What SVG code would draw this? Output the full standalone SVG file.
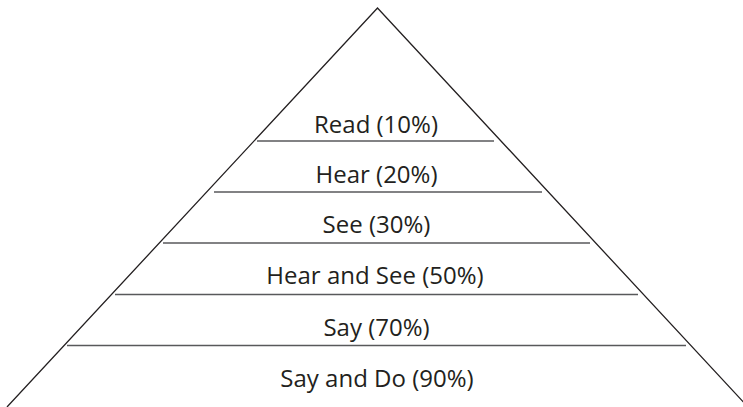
<svg xmlns="http://www.w3.org/2000/svg" width="743" height="407" viewBox="0 0 743 407">
  <style>
    .outline { fill: none; stroke: #231f20; stroke-width: 1.3; }
    .divider { stroke: #58595b; stroke-width: 1.4; fill: none; }
    .label { font-family: "Open Sans", "Liberation Sans", sans-serif; font-size: 24px; fill: #231f20; text-anchor: middle; }
  </style>
  <rect x="0" y="0" width="743" height="407" fill="#ffffff"/>
  <g id="pyramid">
    <polyline class="outline" points="7,407 377.5,8 748,407"/>
  </g>
  <g id="connectors">
    <line class="divider" x1="257" y1="141" x2="494" y2="141"/>
    <line class="divider" x1="214" y1="192" x2="542" y2="192"/>
    <line class="divider" x1="163" y1="243" x2="590" y2="243"/>
    <line class="divider" x1="115" y1="294.5" x2="638" y2="294.5"/>
    <line class="divider" x1="67" y1="345.5" x2="686" y2="345.5"/>
  </g>
  <g id="read"><text class="label" x="376" y="132.5">Read (10%)</text></g>
  <g id="hear"><text class="label" x="376.5" y="183.3">Hear (20%)</text></g>
  <g id="see"><text class="label" x="376.5" y="232.7">See (30%)</text></g>
  <g id="hear-and-see"><text class="label" x="375" y="284.3">Hear and See (50%)</text></g>
  <g id="say"><text class="label" x="376.5" y="335.5">Say (70%)</text></g>
  <g id="say-and-do"><text class="label" x="377" y="386.7">Say and Do (90%)</text></g>
</svg>
